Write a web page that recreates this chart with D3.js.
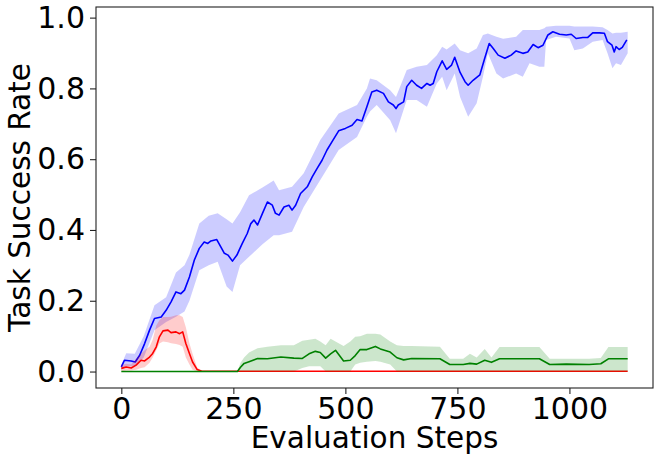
<!DOCTYPE html>
<html>
<head>
<meta charset="utf-8">
<script src="https://cdn.jsdelivr.net/npm/d3@7"></script>
<style>
  body { margin: 0; background: #fff; }
  svg { display: block; font-family: "DejaVu Sans", sans-serif; }
</style>
</head>
<body>
<div id="vis"></div>
<script>
// blue run: mean curve and its shaded band
var blueSteps = [0, 7, 22, 31, 41, 52, 63, 74, 89, 100, 111, 122, 133, 141, 152, 163, 174, 185, 193, 200,
  213, 222, 230, 238, 248, 258, 263, 270, 281, 289, 296, 304, 315, 326, 337, 344, 352, 363, 374, 381,
  389, 400, 415, 426, 437, 448, 459, 470, 485, 500, 515, 526, 537, 548, 559, 570, 585, 596, 607, 613,
  618, 630, 637, 648, 659, 670, 682, 689, 696, 704, 716, 726, 737, 744, 756, 767, 774, 785, 800, 811,
  821, 830, 841, 856, 870, 881, 896, 907, 919, 930, 941, 952, 963, 978, 993, 1004, 1015, 1030, 1041, 1052,
  1067, 1078, 1085, 1095, 1100, 1104, 1111, 1118, 1128];
var blueMean = [0.013, 0.032, 0.030, 0.027, 0.046, 0.079, 0.117, 0.150, 0.154, 0.173, 0.197, 0.225, 0.220, 0.230, 0.267, 0.315, 0.348, 0.366, 0.362, 0.369,
  0.373, 0.352, 0.334, 0.329, 0.312, 0.329, 0.343, 0.362, 0.390, 0.418, 0.428, 0.414, 0.447, 0.479, 0.470, 0.447, 0.442, 0.465, 0.470, 0.456,
  0.470, 0.503, 0.522, 0.550, 0.574, 0.597, 0.626, 0.649, 0.680, 0.687, 0.696, 0.712, 0.708, 0.748, 0.790, 0.795, 0.786, 0.762, 0.753, 0.743,
  0.753, 0.762, 0.805, 0.823, 0.809, 0.800, 0.814, 0.809, 0.814, 0.847, 0.878, 0.854, 0.866, 0.888, 0.845, 0.819, 0.809, 0.823, 0.838, 0.885,
  0.927, 0.913, 0.894, 0.885, 0.894, 0.906, 0.899, 0.903, 0.924, 0.915, 0.922, 0.951, 0.960, 0.953, 0.951, 0.953, 0.941, 0.944, 0.944, 0.957,
  0.957, 0.956, 0.932, 0.922, 0.903, 0.918, 0.910, 0.916, 0.937];

var blueBandSteps = [0, 11, 30, 50, 74, 100, 122, 141, 152, 174, 195, 215, 235, 248, 265, 285, 315, 340, 352, 381,
  407, 444, 485, 526, 548, 555, 570, 600, 613, 637, 659, 682, 704, 716, 726, 744, 756, 774, 793, 807,
  818, 837, 852, 881, 896, 911, 933, 944, 948, 970, 1000, 1011, 1030, 1052, 1074, 1085, 1096, 1104, 1115, 1130];
var blueLow = [0.005, 0.015, 0.015, 0.040, 0.117, 0.140, 0.155, 0.170, 0.200, 0.286, 0.300, 0.310, 0.240, 0.225, 0.300, 0.324, 0.360, 0.385, 0.385, 0.395,
  0.465, 0.541, 0.626, 0.663, 0.720, 0.735, 0.753, 0.710, 0.673, 0.767, 0.767, 0.748, 0.814, 0.833, 0.795, 0.842, 0.776, 0.720, 0.758, 0.833,
  0.899, 0.842, 0.828, 0.842, 0.833, 0.871, 0.861, 0.861, 0.937, 0.946, 0.941, 0.908, 0.913, 0.932, 0.937, 0.899, 0.857, 0.871, 0.866, 0.899];
var blueHigh = [0.020, 0.052, 0.050, 0.100, 0.187, 0.210, 0.280, 0.300, 0.330, 0.418, 0.440, 0.447, 0.430, 0.418, 0.450, 0.498, 0.520, 0.540, 0.512, 0.522,
  0.560, 0.654, 0.729, 0.753, 0.800, 0.828, 0.823, 0.795, 0.776, 0.852, 0.861, 0.866, 0.894, 0.918, 0.910, 0.927, 0.908, 0.899, 0.913, 0.951,
  0.955, 0.946, 0.940, 0.946, 0.965, 0.965, 0.965, 0.970, 0.974, 0.977, 0.977, 0.975, 0.975, 0.975, 0.973, 0.965, 0.955, 0.957, 0.957, 0.960];

// red run
var redSteps = [0, 11, 22, 33, 44, 52, 63, 70, 78, 85, 93, 104, 111, 122, 130, 137, 144, 152, 159, 169, 180, 1130];
var redMean = [0.009, 0.013, 0.010, 0.018, 0.032, 0.030, 0.041, 0.051, 0.070, 0.098, 0.115, 0.117, 0.110, 0.112, 0.107, 0.112, 0.079, 0.051, 0.027, 0.006, 0.001, 0.001];
var redLow = [0, 0.003, 0.003, 0.005, 0.010, 0.012, 0.025, 0.040, 0.060, 0.079, 0.085, 0.083, 0.080, 0.078, 0.075, 0.070, 0.040, 0.020, 0.005, 0, 0, 0];
var redHigh = [0.018, 0.022, 0.020, 0.036, 0.050, 0.060, 0.070, 0.090, 0.130, 0.145, 0.154, 0.154, 0.155, 0.159, 0.159, 0.154, 0.125, 0.080, 0.050, 0.012, 0, 0];

// green run
var greenSteps = [0, 259, 266, 274, 285, 304, 326, 356, 385, 404, 419, 433, 444, 456, 467, 478, 496, 511, 522, 533,
  548, 567, 578, 600, 615, 630, 648, 711, 733, 763, 778, 793, 811, 826, 844, 933, 956, 993, 1044, 1070, 1087, 1130];
var greenMean = [0, 0, 0.012, 0.023, 0.028, 0.037, 0.036, 0.041, 0.038, 0.037, 0.050, 0.057, 0.054, 0.038, 0.050, 0.060, 0.030, 0.032, 0.045, 0.062,
  0.062, 0.071, 0.064, 0.055, 0.039, 0.033, 0.037, 0.036, 0.020, 0.020, 0.023, 0.021, 0.032, 0.026, 0.036, 0.036, 0.020, 0.021, 0.020, 0.022, 0.036, 0.036];
var greenLow = [0, 0, 0, 0, 0, 0, 0, 0, 0, 0.010, 0.015, 0.015, 0.015, 0, 0, 0, 0, 0, 0.020, 0.025,
  0.028, 0.030, 0.028, 0.020, 0, 0, 0, 0, 0, 0, 0, 0, 0, 0, 0, 0, 0, 0, 0, 0, 0, 0];
var greenHigh = [0, 0, 0.025, 0.040, 0.054, 0.066, 0.070, 0.074, 0.074, 0.087, 0.090, 0.093, 0.085, 0.074, 0.093, 0.085, 0.072, 0.085, 0.098, 0.100,
  0.107, 0.107, 0.105, 0.085, 0.074, 0.072, 0.072, 0.070, 0.036, 0.036, 0.050, 0.040, 0.064, 0.040, 0.069, 0.069, 0.036, 0.036, 0.036, 0.038, 0.069, 0.069];

var xTicks = [0, 250, 500, 750, 1000];
var yTicks = [0, 0.2, 0.4, 0.6, 0.8, 1.0];

var width = 660;
var height = 464;
var margin = { top: 7, right: 7, bottom: 76, left: 96 };
var innerW = width - margin.left - margin.right;
var innerH = height - margin.top - margin.bottom;

var svg = d3.select('#vis')
  .append('svg')
  .attr('width', width)
  .attr('height', height);

var g = svg.append('g')
  .attr('transform', 'translate(' + margin.left + ',' + margin.top + ')');

var x = d3.scaleLinear().domain([-56.5, 1186.5]).range([0, innerW]);
var y = d3.scaleLinear().domain([-0.0465, 1.03]).range([innerH, 0]);

function zipBand(steps, lo, hi) {
  return steps.map(function (s, i) { return { s: s, lo: lo[i], hi: hi[i] }; });
}
function zipLine(steps, vals) {
  return steps.map(function (s, i) { return { s: s, v: vals[i] }; });
}

var area = d3.area()
  .x(function (d) { return x(d.s); })
  .y0(function (d) { return y(d.lo); })
  .y1(function (d) { return y(d.hi); });

var line = d3.line()
  .x(function (d) { return x(d.s); })
  .y(function (d) { return y(d.v); });

var series = [
  { colour: '#0000ff', band: zipBand(blueBandSteps, blueLow, blueHigh), mean: zipLine(blueSteps, blueMean) },
  { colour: '#ff0000', band: zipBand(redSteps, redLow, redHigh), mean: zipLine(redSteps, redMean) },
  { colour: '#008000', band: zipBand(greenSteps, greenLow, greenHigh), mean: zipLine(greenSteps, greenMean) }
];

series.forEach(function (s) {
  g.append('path')
    .datum(s.band)
    .attr('d', area)
    .attr('fill', s.colour)
    .attr('fill-opacity', 0.2);
  g.append('path')
    .datum(s.mean)
    .attr('d', line)
    .attr('fill', 'none')
    .attr('stroke', s.colour)
    .attr('stroke-width', 1.6)
    .attr('stroke-linejoin', 'round');
});

// axes
var xAxis = g.append('g')
  .attr('transform', 'translate(0,' + innerH + ')')
  .call(d3.axisBottom(x).tickValues(xTicks).tickFormat(d3.format('d')).tickSize(6).tickPadding(4).tickSizeOuter(0));

var yAxis = g.append('g')
  .call(d3.axisLeft(y).tickValues(yTicks).tickFormat(d3.format('.1f')).tickSize(6).tickPadding(5).tickSizeOuter(0));

[xAxis, yAxis].forEach(function (a) {
  a.select('.domain').remove();
  a.attr('font-size', null).attr('font-family', null);
  a.selectAll('line').attr('stroke', '#222').attr('stroke-width', 1.1);
  a.selectAll('text')
    .attr('fill', '#000')
    .style('font-size', '30px')
    .style('font-family', '"DejaVu Sans", sans-serif');
});

// frame
g.append('rect')
  .attr('x', 0)
  .attr('y', 0)
  .attr('width', innerW)
  .attr('height', innerH)
  .attr('fill', 'none')
  .attr('stroke', '#222')
  .attr('stroke-width', 1.1);

// axis titles
svg.append('text')
  .attr('x', margin.left + innerW / 2)
  .attr('y', 448)
  .attr('text-anchor', 'middle')
  .style('font-size', '29.5px')
  .text('Evaluation Steps');

svg.append('text')
  .attr('transform', 'translate(30,' + (margin.top + innerH / 2) + ') rotate(-90)')
  .attr('text-anchor', 'middle')
  .style('font-size', '29.5px')
  .text('Task Success Rate');
</script>
</body>
</html>
